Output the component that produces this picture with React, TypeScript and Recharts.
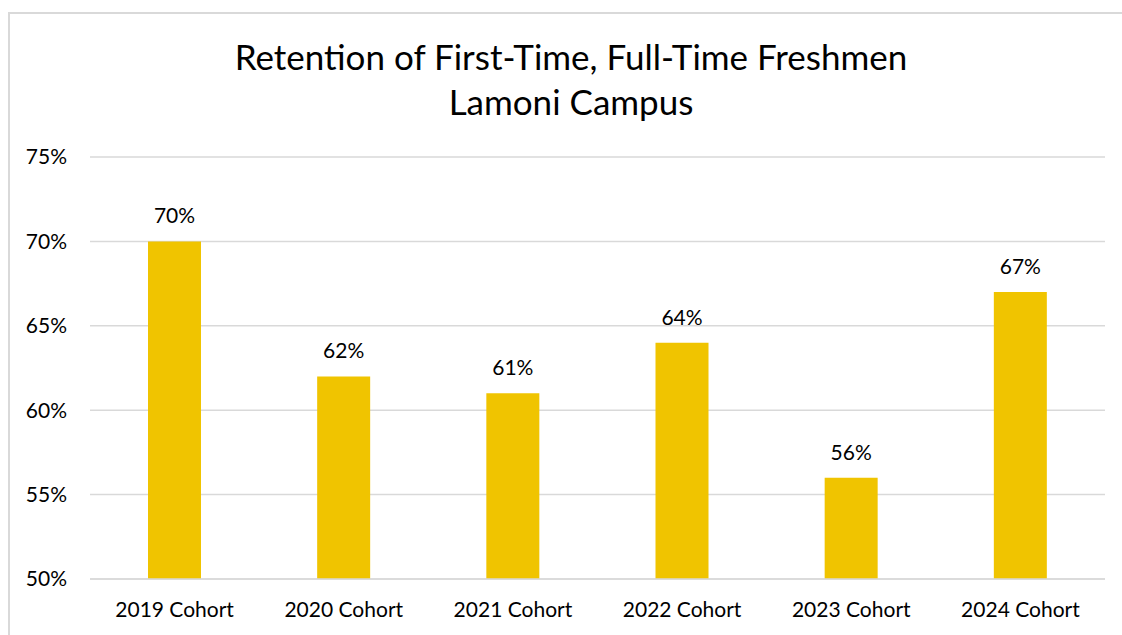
import React from 'react';
import { BarChart, Bar, XAxis, YAxis, CartesianGrid, LabelList } from 'recharts';

const cohorts = ['2019 Cohort', '2020 Cohort', '2021 Cohort', '2022 Cohort', '2023 Cohort', '2024 Cohort'];
const retention = [70, 62, 61, 64, 56, 67];
const yTicks = [50, 55, 60, 65, 70, 75];

const data = cohorts.map((cohort, i) => ({ cohort, value: retention[i] }));

const FONT = 'Lato, "Open Sans", sans-serif';
const GRID = '#d9d9d9';
const BAR = '#F0C400';

const App = () => {
  return (
    <div
      style={{
        position: 'absolute',
        left: 0,
        top: 0,
        width: 1122,
        height: 635,
        overflow: 'hidden',
        background: '#fff',
        fontFamily: FONT,
      }}
    >
      <div
        style={{
          position: 'absolute',
          left: 8,
          top: 12,
          width: 1126,
          height: 640,
          border: `2px solid ${GRID}`,
        }}
      />
      <div
        style={{
          position: 'absolute',
          left: 8,
          width: 1126,
          top: 34,
          textAlign: 'center',
          fontSize: 35,
          lineHeight: '45px',
          color: '#000',
        }}
      >
        Retention of First-Time, Full-Time Freshmen
        <br />
        Lamoni Campus
      </div>
      <div style={{ position: 'absolute', left: 0, top: 0 }}>
        <BarChart
          width={1122}
          height={635}
          data={data}
          margin={{ top: 157, right: 17, bottom: 0, left: 0 }}
        >
          <CartesianGrid vertical={false} stroke={GRID} strokeWidth={1.5} />
          <XAxis
            dataKey="cohort"
            height={56}
            tickLine={false}
            tickSize={0}
            tickMargin={23}
            axisLine={{ stroke: GRID, strokeWidth: 1.5 }}
            tick={{ fill: '#000', fontSize: 21, fontFamily: FONT }}
            interval={0}
          />
          <YAxis
            width={90}
            domain={[50, 75]}
            ticks={yTicks}
            tickFormatter={(v) => `${v}%`}
            axisLine={false}
            tickLine={false}
            tickSize={0}
            tickMargin={23}
            tick={{ fill: '#000', fontSize: 21, fontFamily: FONT }}
          />
          <Bar dataKey="value" fill={BAR} barSize={53} isAnimationActive={false}>
            <LabelList
              dataKey="value"
              position="top"
              offset={18}
              formatter={(v) => `${v}%`}
              style={{ fill: '#000', fontSize: 21, fontFamily: FONT }}
            />
          </Bar>
        </BarChart>
      </div>
    </div>
  );
};

export default App;
